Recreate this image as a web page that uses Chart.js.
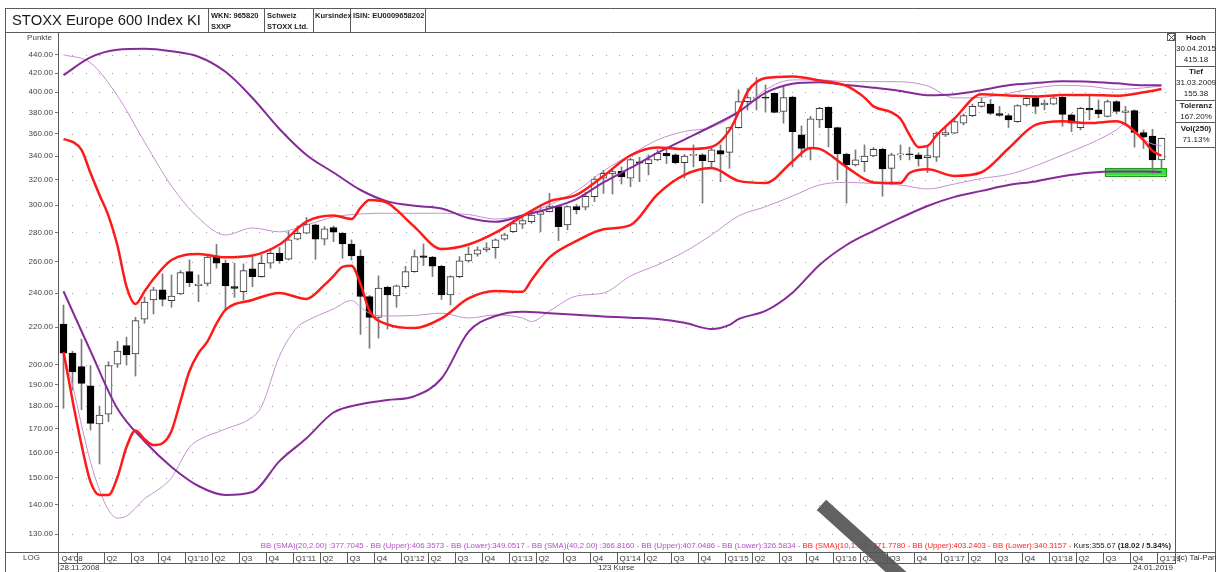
<!DOCTYPE html>
<html><head><meta charset="utf-8">
<script src="https://cdn.jsdelivr.net/npm/chart.js@4.4.0/dist/chart.umd.min.js"></script>
<style>
html,body{margin:0;padding:0;background:#fff;}
#wrap{position:relative;width:1218px;height:572px;overflow:hidden;font-family:"Liberation Sans",Arial,sans-serif;background:#fff;}
#c{position:absolute;left:0;top:0;}
.t{position:absolute;white-space:nowrap;line-height:1;color:#222;font-size:8px;}
.h{font-size:7.5px;font-weight:bold;}
.b{font-weight:bold;}
.pc{left:1176px;width:40px;text-align:center;}
#band{position:absolute;left:859px;top:485px;width:14px;height:120px;background:rgba(85,85,85,0.92);transform:rotate(-48deg);}
</style></head>
<body><div id="wrap">
<canvas id="c" width="1218" height="572"></canvas>
<div class="t" style="left:12px;top:13px;font-size:14.8px;color:#1a1a1a;">STOXX Europe 600 Index KI</div>
<div class="t h" style="left:211px;top:12px;">WKN: 965820</div>
<div class="t h" style="left:211px;top:23px;">SXXP</div>
<div class="t h" style="left:267px;top:12px;">Schweiz</div>
<div class="t h" style="left:267px;top:23px;">STOXX Ltd.</div>
<div class="t h" style="left:315px;top:12px;">Kursindex</div>
<div class="t h" style="left:353px;top:12px;">ISIN: EU0009658202</div>
<div class="t" style="right:1166px;top:34px;color:#444;">Punkte</div>
<div class="t b pc" style="top:34px;">Hoch</div>
<div class="t pc" style="top:45px;">30.04.2015</div>
<div class="t pc" style="top:56px;">415.18</div>
<div class="t b pc" style="top:68px;">Tief</div>
<div class="t pc" style="top:79px;">31.03.2009</div>
<div class="t pc" style="top:90px;">155.38</div>
<div class="t b pc" style="top:102px;">Toleranz</div>
<div class="t pc" style="top:113px;">167.20%</div>
<div class="t b pc" style="top:125px;">Vol(250)</div>
<div class="t pc" style="top:136px;">71.13%</div>
<div class="t" style="left:5px;width:53px;text-align:center;top:554px;color:#444;">LOG</div>
<div class="t" style="left:60px;top:564px;color:#333;">28.11.2008</div>
<div class="t" style="left:598px;top:564px;color:#333;">123 Kurse</div>
<div class="t" style="right:45px;top:564px;color:#333;">24.01.2019</div>
<div class="t" style="left:1178px;top:554px;color:#333;">(c) Tai-Pan</div>
<div class="t" style="right:47px;top:542px;font-size:7.8px;"><span style="color:#b050c4;">BB (SMA)(20,2.00) :377.7045 - BB (Upper):406.3573 - BB (Lower):349.0517 - BB (SMA)(40,2.00) :366.8160 - BB (Upper):407.0486 - BB (Lower):326.5834 - </span><span style="color:#ff2222;">BB (SMA)(10,1.90) :371.7780 - BB (Upper):403.2403 - BB (Lower):340.3157 - </span><span style="color:#222;">Kurs:355.67 <b>(18.02 / 5.34%)</b></span></div>
<div id="band"></div>
</div>
<script>
// ---- categories: 123 monthly candles, Nov 2008 .. Jan 2019
const months = [];
for (let k = 0; k < 123; k++) {
  const m = (10 + k) % 12, yr = 2008 + Math.floor((10 + k) / 12);
  months.push(yr + '-' + String(m + 1).padStart(2, '0'));
}
// ---- y tick labels
const yTicks = [130,140,150,160,170,180,190,200,220,240,260,280,300,320,340,360,380,400,420,440];
// ---- quarter tick labels [categoryIndex, label]
const quarterTicks = [];
months.forEach((mm, k) => {
  const mo = +mm.slice(5), yr = mm.slice(2, 4);
  if (k === 0) quarterTicks.push([0, "Q4'" + yr]);
  else if (mo % 3 === 1) {
    const q = (mo - 1) / 3 + 1;
    quarterTicks.push([k, q === 1 ? "Q1'" + yr : 'Q' + q]);
  }
});
// ---- OHLC (monthly)
const open = [221.7,206,199,189.5,172,176.3,200.3,210,205.5,224.6,
235.8,241.9,235.4,239.4,253.4,244.5,246,263.7,258.9,244,
240.9,255.2,250.2,258.9,265.5,261.5,275.2,279.4,285.4,275.2,
283.5,279.4,271.9,263.7,237.9,225.6,243.6,238.2,243.9,253.4,
263.8,262.9,256.9,238.8,250.2,260.4,265,267.8,269.3,275.2,
280.6,286,287.8,293.2,295.2,299,285.4,299,298.6,306.6,
321.4,325,327,321.4,335,333.6,336.7,342.4,341,334.4,
340.5,341,335.3,344.8,343.2,365.6,390.5,394,395,398.9,
380.8,395.1,358.8,346.7,372.8,385,365.6,341.8,332.4,335.3,
340.1,346,329.6,341,342,341,338.6,339,358.8,360.4,
369.7,376.8,385.8,388.1,378.8,376.8,371.2,387.3,394.3,387.3,
388.1,394.7,377.6,365.6,384,382.4,376.2,390.5,380,381.7,
361,357.7,336.7];
const high = [232.8,207,213.4,199.6,180,201.5,212.3,214.5,225.6,237.6,
243.6,252,251.3,254.1,261.1,251.3,263.7,271.7,261,259,
258.4,262.9,264.4,268.2,269.5,280.6,284.6,291,286,284.2,
284.5,280,274.7,267.8,238.5,250.7,244,245,256.9,267.8,
271.9,263.5,257.5,250.7,263.3,269.9,269.9,272.8,275.5,279.5,
289,290.5,296,300.3,309.2,299.5,299.5,300.5,310,322.7,
328,329,330.8,338,339,341,345.4,347.8,342,341.5,
349.8,342,347.8,349.8,366,402.4,404.1,415.18,407.5,399.5,
405.8,396,367.1,376.2,385,385.5,366,342.5,345.4,349.8,
347.5,347,342.5,349.8,347.8,343,347.8,361.5,367.1,374.7,
378.6,388,393.7,392.7,385.8,378.6,387.5,395,395.5,392.2,
397.2,395.5,378.6,385,396.2,392.2,392.2,391.5,385.8,382.5,
363.4,364,356];
const low = [179,187.5,178.4,169.4,155.38,173,198.6,200,194.3,222.2,
227.6,232.2,231.5,239,243.9,234.8,244.4,255.6,229.9,237.4,
235.8,243.9,249.8,255.6,258.9,261,274.7,279,261.5,271.2,
273.5,262.2,261,216,208.5,214,219,231.5,243,253,
257.4,250.2,236.1,232.8,249.5,259.5,263.5,266.5,262.2,274.5,
280,282.8,286.5,280.6,295,274.2,281.8,293.5,296.5,302.8,
309.2,308.7,316.7,314.5,318.6,324.1,336,333.6,333.6,321.4,
330.8,301.6,329.6,318.6,329.6,365,382.4,382.4,380.8,379.5,
369.7,330.8,339,336.7,365.6,348.1,320,301.6,331.5,326.8,
339.5,307,315.9,336.7,336.7,331.4,326,335.3,357.3,360,
368.1,376,385,378,376.2,365.6,370.5,386,378.6,382.4,
387.3,366.7,361.9,363.4,372.8,374.7,375.5,378.6,368.1,347.8,
346.7,325.5,330];
const close = [206,196.3,190.7,172.3,176,199.6,207.1,205,223.7,234.6,
241.9,236.2,238.2,252.8,246.4,245.5,262.9,258.9,244.4,242.8,
254.1,250.2,258.9,265.5,260.6,274.7,279.4,285.8,275.2,282.5,
280.1,271.9,263.7,237.9,225.6,243,238.8,244.4,253.4,263.3,
262.8,256.9,238.8,250.2,260.4,265,267.8,269.3,274.7,278.2,
286.3,288.5,292.7,295.2,299,284.2,299,296.5,307,320.6,
325.5,326.8,322.6,337,334,337,342.4,340.1,334.4,340.1,
341.5,336.1,345.4,341.6,365.6,390.5,394.5,395,394,379.9,
394.5,361.9,346.7,373.7,384,365.6,341.8,332.4,336.7,340.1,
346,329,341,342,341.2,337.5,340.5,360.4,361,371.2,
376.8,385.8,389.7,379,377.1,372.8,386.5,393.7,385.8,389,
394.3,378,369.7,384,382.4,378.6,390.5,380.8,381.6,361,
356.7,336.7,355.67];
// ---- Bollinger bands: [categoryIndex, value]
const bb10Upper = [[0,355],[1,352.5],[2,345.4],[3,325.7],[4,308],[5,292],[6,270.7],[7,244],[8,233.4],[9,241],[10,248.7],[12,261],[15,265],[18,262.8],[21,264],[24,271.5],[27,287.8],[30,292.3],[32,289.7],[33,298],[34,304.1],[36,301.8],[37,296.5],[39,284],[42,268.4],[45,271.5],[48,279.8],[51,291.9],[54,303],[57,308],[60,323.2],[63,340.6],[66,347.6],[69,346.1],[72,348],[74,363],[75,380],[76,400.3],[78,414.6],[81,416.3],[84,412.2],[87,406.4],[89,394.5],[90,385.8],[92,380],[93,373.8],[94,358.8],[95,347.8],[96,348.9],[97,358.3],[99,374.2],[102,398],[105,396.7],[108,395.7],[111,397.1],[114,397.2],[117,396.4],[120,399.9],[122,403.24]];
const bb10Lower = [[0,206.6],[1,182.8],[2,163.2],[3,148.5],[4,143.6],[5,143.6],[6,150.3],[7,162.2],[8,169.2],[9,165.5],[10,163],[11,163.8],[12,169],[13,182.3],[14,196.8],[15,206],[16,212.2],[17,222],[18,229.9],[21,235.8],[24,240],[27,236.4],[29,245],[30,250.6],[31,256.5],[32,257.3],[33,245.6],[34,229.3],[36,221.6],[39,219.5],[42,225],[45,236.7],[48,241.2],[51,240.8],[52,248.1],[54,262.8],[57,274],[60,282.3],[63,285.3],[66,308.5],[69,324.1],[72,329.8],[75,319.2],[78,317.5],[81,335.4],[83,347.1],[84,346.3],[87,330.6],[90,318],[93,317.5],[94,325.7],[96,328.8],[99,323.3],[102,326.3],[105,346.6],[108,368.1],[111,371.5],[114,369.8],[117,371.4],[118,368.5],[119,362],[120,354],[121,344.5],[122,340.32]];
const bb20Upper = [[0,440],[3,431],[6,396.2],[9,352.5],[12,315.1],[15,290.5],[18,278.2],[21,283.2],[24,280.4],[27,285.4],[30,291.2],[33,293.5],[36,294],[39,294],[42,294],[45,293],[48,289.7],[51,292.7],[54,300.3],[57,311.1],[60,327.4],[63,341],[66,354.3],[69,362],[72,365.9],[75,379.6],[78,402.4],[81,412.7],[84,412.7],[87,410.9],[90,410.9],[93,410.8],[96,406.4],[99,394.2],[102,394.7],[105,398.8],[108,404.4],[111,407],[114,406],[117,402.9],[120,404.4],[122,406.36]];
const bb20Lower = [[0,206],[1,189.9],[2,171.6],[3,156.2],[4,145.4],[5,138.2],[6,135.4],[7,136.1],[8,138.9],[9,142.2],[10,144.4],[11,146.7],[12,150],[14,162.2],[15,165.1],[18,169.8],[21,175.1],[22,179.8],[24,204.5],[26,220.2],[27,223.5],[30,230.5],[32,235.5],[33,231.7],[34,227.9],[36,226.4],[39,226.7],[42,228],[45,225.2],[48,227],[51,225.2],[52,223.2],[54,229.3],[57,238.2],[60,240],[63,250.6],[66,257.8],[69,266.5],[72,278.2],[75,291.9],[78,298.9],[81,307.1],[84,315.9],[87,318],[90,317.1],[93,315.9],[96,312.7],[99,316.7],[102,321.2],[105,324.5],[108,331.6],[111,341],[114,350.7],[117,363.4],[118,369.5],[119,362],[120,355],[121,350.6],[122,349.05]];
const bb40Upper = [[0,417.8],[3,437],[6,445.5],[9,446.6],[12,443.8],[15,437.8],[18,421.3],[21,394.2],[24,364.3],[27,341],[30,326.1],[33,311.9],[36,303],[39,299.6],[42,297.6],[45,290.4],[48,287.7],[51,292.3],[54,297.6],[57,304.8],[60,318],[63,329.9],[66,342.8],[69,354.6],[72,366.8],[75,380.5],[78,399.3],[81,408.6],[84,410.2],[87,407.4],[90,404.6],[93,401.3],[96,396.9],[99,397.9],[102,402],[105,407.1],[108,409.4],[111,411.2],[114,410.8],[117,409.1],[120,407.1],[122,407.05]];
const bb40Lower = [[0,241.1],[3,207.1],[6,178.8],[9,164.6],[12,154.2],[15,146.9],[18,143.6],[21,144.7],[24,156.5],[27,165.9],[30,177.1],[33,180.9],[36,182.8],[39,184.6],[42,193.1],[45,217.4],[48,226.4],[51,228.9],[54,228],[57,227.1],[60,226.1],[63,225.4],[66,224.7],[69,222.5],[72,219],[74,221.3],[75,224.6],[78,229.3],[81,240.2],[84,257.8],[87,271.2],[90,281.1],[93,290.5],[96,299.5],[99,306.5],[102,311.2],[105,315.9],[108,318.8],[111,323],[114,325.9],[117,327],[120,327],[122,326.58]];
// ---- highlighted zone near the end (category index span, value span)
const zoneIdx = [115.7, 122.5];
const zoneVal = [323.4, 329.7];

// ---- build library structures
const labels = months.concat(['']);
const bodies = open.map((o, i) => [Math.min(o, close[i]), Math.max(o, close[i])]);
const wicks = low.map((l, i) => [l, high[i]]);
const bodyFill = open.map((o, i) => close[i] >= o ? '#ffffff' : '#000000');
const bodyLine = open.map((o, i) => close[i] >= o ? '#3a3a3a' : '#000000');
const toPts = arr => arr.map(([i, v]) => ({ x: months[i], y: v }));
const lineDs = (data, color, width, order) => ({
  type: 'line', data: toPts(data), borderColor: color, borderWidth: width,
  pointRadius: 0, fill: false, cubicInterpolationMode: 'monotone', order: order
});

const FONT = 'Liberation Sans';
const framePlugin = {
  id: 'frame',
  beforeDatasetsDraw(chart) {
    const ctx = chart.ctx, ys = chart.scales.y, xs = chart.scales.x, a = chart.chartArea;
    ctx.save();
    ctx.fillStyle = '#9a9a9a';
    yTicks.forEach(v => {
      const py = Math.round(ys.getPixelForValue(v));
      for (let x = a.left + 13.33; x < a.right - 2; x += 13.33) ctx.fillRect(Math.round(x), py, 1, 1);
    });
    const x1 = xs.getPixelForValue(zoneIdx[0]), x2 = xs.getPixelForValue(zoneIdx[1]);
    const y1 = ys.getPixelForValue(zoneVal[1]), y2 = ys.getPixelForValue(zoneVal[0]);
    ctx.fillStyle = '#33e633';
    ctx.fillRect(x1, y1, x2 - x1, y2 - y1);
    ctx.strokeStyle = '#1f9a1f'; ctx.lineWidth = 1;
    ctx.strokeRect(Math.round(x1) + 0.5, Math.round(y1) + 0.5, Math.round(x2 - x1), Math.round(y2 - y1));
    ctx.restore();
  },
  afterDraw(chart) {
    const ctx = chart.ctx, xs = chart.scales.x;
    ctx.save();
    ctx.strokeStyle = '#5a5a5a'; ctx.lineWidth = 1;
    const L = (x1, y1, x2, y2) => { ctx.beginPath(); ctx.moveTo(x1, y1); ctx.lineTo(x2, y2); ctx.stroke(); };
    L(5.5, 8, 5.5, 572); L(5, 8.5, 1216, 8.5); L(1215.5, 8, 1215.5, 572);
    L(5, 32.5, 1216, 32.5);
    [208.5, 264.5, 313.5, 350.5, 425.5].forEach(x => L(x, 8, x, 33));
    L(58.5, 33, 58.5, 572);
    L(1175.5, 33, 1175.5, 564);
    L(5, 552.5, 1216, 552.5);
    L(58, 563.5, 1176, 563.5);
    [66.5, 100.5, 122.5, 147.5].forEach(y => L(1175, y, 1216, y));
    ctx.strokeRect(1167.5, 33.5, 7, 7);
    L(1168, 34, 1175, 41); L(1175, 34, 1168, 41);
    ctx.font = '8px "' + FONT + '"';
    ctx.fillStyle = '#333'; ctx.textBaseline = 'middle'; ctx.textAlign = 'left';
    quarterTicks.forEach(([k, lab]) => {
      const x = Math.round(xs.getPixelForValue(k) - 4.5) + 0.5;
      if (k > 0) L(x, 552, x, 563);
      if (k !== 2) ctx.fillText(lab, x + 2, 558.5);
    });
    ctx.restore();
  }
};

new Chart(document.getElementById('c'), {
  type: 'bar',
  data: {
    labels: labels,
    datasets: [
      lineDs(bb10Upper, '#ff1a1a', 2.5, 0),
      lineDs(bb10Lower, '#ff1a1a', 2.5, 0),
      lineDs(bb40Upper, '#862a9a', 2, 1),
      lineDs(bb40Lower, '#862a9a', 2, 1),
      lineDs(bb20Upper, '#c690d2', 1, 2),
      lineDs(bb20Lower, '#c690d2', 1, 2),
      { type: 'bar', data: bodies, backgroundColor: bodyFill, borderColor: bodyLine, borderWidth: 1,
        borderSkipped: false, barThickness: 7, grouped: false, order: 5 },
      { type: 'bar', data: wicks, backgroundColor: '#7a7a7a', borderWidth: 0,
        barThickness: 1, grouped: false, order: 6 }
    ]
  },
  options: {
    responsive: false, animation: false, devicePixelRatio: 1,
    layout: { padding: { left: 5, right: 43, top: 33, bottom: 20 } },
    plugins: { legend: { display: false }, tooltip: { enabled: false } },
    scales: {
      x: { display: false, offset: true, grid: { display: false } },
      y: {
        type: 'logarithmic', min: 124.2, max: 465, position: 'left',
        afterBuildTicks: s => { s.ticks = yTicks.map(v => ({ value: v })); },
        afterFit: s => { s.width = 54; },
        ticks: { autoSkip: false, callback: v => Number(v).toFixed(2),
                 font: { family: FONT, size: 8 }, color: '#444', padding: 2 },
        grid: { drawOnChartArea: false, drawTicks: true, tickLength: 4, tickColor: '#777' },
        border: { display: false }
      }
    }
  },
  plugins: [framePlugin]
});
</script>
</body></html>
